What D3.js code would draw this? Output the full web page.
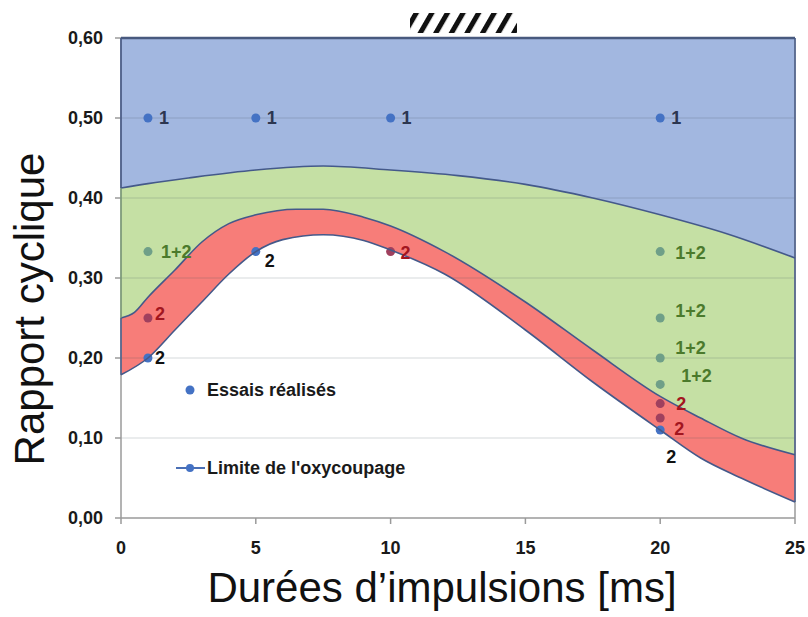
<!DOCTYPE html>
<meta charset="utf-8">
<style>
    body { margin: 0; background: #fff; }
    svg text { font-family: "Liberation Sans", Arial, sans-serif; }
    .tick-label { font-size: 18px; font-weight: bold; fill: #1a1a1a; }
    .pt-label { font-size: 18px; font-weight: bold; }
</style>
<svg width="808" height="617"></svg>
<script src="https://cdn.jsdelivr.net/npm/d3@7/dist/d3.min.js"></script>
<script>
// ---- data ----
var xTicks = [0, 5, 10, 15, 20, 25];
var yTicks = [0, 0.1, 0.2, 0.3, 0.4, 0.5, 0.6];
var yTickLabels = ["0,00", "0,10", "0,20", "0,30", "0,40", "0,50", "0,60"];

// limite haute (bleu / vert)
var limitUpper = [[0, 0.4125], [1, 0.418], [2.5, 0.425], [5, 0.435], [7.5, 0.44],
    [10, 0.435], [12.5, 0.428], [15, 0.417], [17.5, 0.40], [20, 0.379],
    [22.5, 0.355], [25, 0.325]];
// limite vert / rouge
var limitMiddle = [[0, 0.25], [0.5, 0.257], [1, 0.276], [2, 0.31], [3, 0.345],
    [4, 0.368], [5, 0.379], [6.5, 0.386], [7.5, 0.386], [9, 0.376], [10, 0.365],
    [12, 0.333], [15, 0.27], [17.5, 0.21], [20, 0.152], [21.5, 0.125], [23, 0.1],
    [25, 0.079]];
// limite basse (rouge / blanc)
var limitLower = [[0, 0.179], [1, 0.2], [2, 0.235], [3, 0.27], [4, 0.305],
    [5, 0.333], [6, 0.348], [7.5, 0.354], [9, 0.347], [10, 0.335], [12, 0.305],
    [15, 0.235], [17.5, 0.17], [20, 0.11], [21.5, 0.075], [23, 0.05], [25, 0.02]];

// essais réalisés
var trialX = [1, 5, 10, 20, 1, 20, 20, 20, 20, 1, 20, 20, 1, 5, 10, 20];
var trialY = [0.5, 0.5, 0.5, 0.5, 0.333, 0.333, 0.25, 0.2, 0.167, 0.25, 0.143, 0.125, 0.2, 0.333, 0.333, 0.11];
var trialLabel = ["1", "1", "1", "1", "1+2", "1+2", "1+2", "1+2", "1+2", "2", "2", "2", "2", "2", "2", "2"];
var trialZone = ["A", "A", "A", "A", "AB", "AB", "AB", "AB", "AB", "B", "B", "B", "edge", "edge", "B", "edge"];

(function () {
    // label offsets in pixels (layout only)
    var labelOffset = [[11, 0], [11, 0], [11, 0], [11, 0], [13, 0], [15, 1], [15, -7], [15, -10],
        [21, -9], [7, -4], [16, 0], [14, 11], [7, 0], [9, 9], [10, 1], [6, 27]];

    var svg = d3.select("svg"),
        padLeft = 121, padRight = 795, padTop = 38, padBottom = 518;

    var x = d3.scaleLinear().domain([0, 25]).range([padLeft, padRight]);
    var y = d3.scaleLinear().domain([0, 0.6]).range([padBottom, padTop]);

    var dotColor = { A: "#4472c4", AB: "#6f9f88", B: "#a0405e", edge: "#4472c4" };
    var textColor = { A: "#2c3650", AB: "#4b7a2c", B: "#a3161f", edge: "#111" };
    var edgeStroke = "#44598a";

    var line = d3.line()
        .x(function (d) { return x(d[0]); })
        .y(function (d) { return y(d[1]); })
        .curve(d3.curveMonotoneX);

    // reversed path without its leading "M"
    function back(pts) {
        return line(pts.slice().reverse()).slice(1);
    }

    // blue zone: from 0.60 down to the upper limit
    svg.append("path")
        .attr("d", "M" + x(0) + "," + y(0.6) + "L" + x(25) + "," + y(0.6) + "L" + back(limitUpper) + "Z")
        .attr("fill", "#a2b7e0");
    // green zone
    svg.append("path")
        .attr("d", line(limitUpper) + "L" + back(limitMiddle) + "Z")
        .attr("fill", "#c5e0a4");
    // red zone
    svg.append("path")
        .attr("d", line(limitMiddle) + "L" + back(limitLower) + "Z")
        .attr("fill", "#f77d79");

    // gridlines
    svg.append("g").selectAll("line")
        .data(yTicks.slice(1, 6))
        .enter().append("line")
        .attr("x1", padLeft).attr("x2", padRight)
        .attr("y1", function (d) { return y(d); })
        .attr("y2", function (d) { return y(d); })
        .attr("stroke", "rgba(70,80,90,0.22)")
        .attr("stroke-width", 1.2);

    // axes
    svg.append("line").attr("x1", padLeft).attr("x2", padRight).attr("y1", padBottom).attr("y2", padBottom)
        .attr("stroke", "#9a9a9a").attr("stroke-width", 1.5);
    svg.append("line").attr("x1", padLeft).attr("x2", padLeft).attr("y1", padTop).attr("y2", padBottom)
        .attr("stroke", "#9a9a9a").attr("stroke-width", 1.5);
    svg.append("line").attr("x1", padRight).attr("x2", padRight).attr("y1", padTop).attr("y2", padBottom)
        .attr("stroke", "#9a9a9a").attr("stroke-width", 1.5);

    svg.append("g").selectAll("line")
        .data(xTicks)
        .enter().append("line")
        .attr("x1", function (d) { return x(d); })
        .attr("x2", function (d) { return x(d); })
        .attr("y1", padBottom).attr("y2", padBottom + 6)
        .attr("stroke", "#9a9a9a").attr("stroke-width", 1.5);
    svg.append("g").selectAll("line")
        .data(yTicks)
        .enter().append("line")
        .attr("x1", padLeft - 6).attr("x2", padLeft)
        .attr("y1", function (d) { return y(d); })
        .attr("y2", function (d) { return y(d); })
        .attr("stroke", "#9a9a9a").attr("stroke-width", 1.5);

    // points, coloured as if seen through the zones
    svg.append("g").selectAll("circle")
        .data(trialX)
        .enter().append("circle")
        .attr("cx", function (d) { return x(d); })
        .attr("cy", function (d, i) { return y(trialY[i]); })
        .attr("r", 4.5)
        .attr("fill", function (d, i) { return dotColor[trialZone[i]]; });

    // zone outlines
    [limitUpper, limitMiddle, limitLower].forEach(function (pts) {
        svg.append("path")
            .attr("d", line(pts))
            .attr("fill", "none")
            .attr("stroke", edgeStroke)
            .attr("stroke-width", 1.6);
    });
    svg.append("line")
        .attr("x1", x(0)).attr("x2", x(25)).attr("y1", y(0.6)).attr("y2", y(0.6))
        .attr("stroke", "#48597e").attr("stroke-width", 2.6);
    svg.append("line")
        .attr("x1", x(0)).attr("x2", x(0)).attr("y1", y(0.6)).attr("y2", y(limitUpper[0][1]))
        .attr("stroke", edgeStroke).attr("stroke-width", 1.6);
    svg.append("line")
        .attr("x1", x(0)).attr("x2", x(0)).attr("y1", y(limitMiddle[0][1])).attr("y2", y(limitLower[0][1]))
        .attr("stroke", edgeStroke).attr("stroke-width", 1.4);
    svg.append("line")
        .attr("x1", x(0)).attr("x2", x(0)).attr("y1", y(limitUpper[0][1])).attr("y2", y(limitMiddle[0][1]))
        .attr("stroke", "#6f9a6a").attr("stroke-width", 1.2);
    svg.append("line")
        .attr("x1", x(25)).attr("x2", x(25)).attr("y1", y(0.6)).attr("y2", y(limitLower[limitLower.length - 1][1]))
        .attr("stroke", edgeStroke).attr("stroke-width", 1.4);

    // point labels
    svg.append("g").selectAll("text")
        .data(trialLabel)
        .enter().append("text")
        .attr("class", "pt-label")
        .attr("x", function (d, i) { return x(trialX[i]) + labelOffset[i][0]; })
        .attr("y", function (d, i) { return y(trialY[i]) + labelOffset[i][1]; })
        .attr("dy", "0.36em")
        .attr("fill", function (d, i) { return textColor[trialZone[i]]; })
        .text(function (d) { return d; });

    // tick labels
    svg.append("g").selectAll("text")
        .data(xTicks)
        .enter().append("text")
        .attr("class", "tick-label")
        .attr("x", function (d) { return x(d); })
        .attr("y", 554)
        .attr("text-anchor", "middle")
        .text(function (d) { return d; });
    svg.append("g").selectAll("text")
        .data(yTicks)
        .enter().append("text")
        .attr("class", "tick-label")
        .attr("x", 103)
        .attr("y", function (d) { return y(d); })
        .attr("dy", "0.36em")
        .attr("text-anchor", "end")
        .text(function (d, i) { return yTickLabels[i]; });

    // axis titles
    svg.append("text")
        .attr("x", 442).attr("y", 602)
        .attr("text-anchor", "middle")
        .attr("font-size", 42)
        .attr("fill", "#111")
        .text("Durées d’impulsions [ms]");
    svg.append("text")
        .attr("transform", "translate(44,309) rotate(-90)")
        .attr("text-anchor", "middle")
        .attr("font-size", 42)
        .attr("fill", "#111")
        .text("Rapport cyclique");

    // legend
    var legend = svg.append("g").attr("class", "pt-label");
    legend.append("circle").attr("cx", 190).attr("cy", 390).attr("r", 4.5).attr("fill", "#4472c4");
    legend.append("text").attr("x", 207).attr("y", 390).attr("dy", "0.36em").attr("fill", "#1a1a1a")
        .text("Essais réalisés");
    legend.append("line").attr("x1", 176).attr("x2", 205).attr("y1", 468).attr("y2", 468)
        .attr("stroke", "#4a6fb5").attr("stroke-width", 2);
    legend.append("circle").attr("cx", 190).attr("cy", 468).attr("r", 4).attr("fill", "#4472c4");
    legend.append("text").attr("x", 207).attr("y", 468).attr("dy", "0.36em").attr("fill", "#1a1a1a")
        .text("Limite de l'oxycoupage");

    // hatched box at the top
    var pat = svg.append("defs").append("pattern")
        .attr("id", "hatch")
        .attr("patternUnits", "userSpaceOnUse")
        .attr("width", 13.5).attr("height", 13.5)
        .attr("patternTransform", "rotate(30)");
    pat.append("rect").attr("width", 13.5).attr("height", 13.5).attr("fill", "#fff");
    pat.append("rect").attr("x", 0).attr("width", 5).attr("height", 13.5).attr("fill", "#111");
    svg.append("rect")
        .attr("x", 410).attr("y", 13).attr("width", 107).attr("height", 20)
        .attr("fill", "url(#hatch)");
})();
</script>
